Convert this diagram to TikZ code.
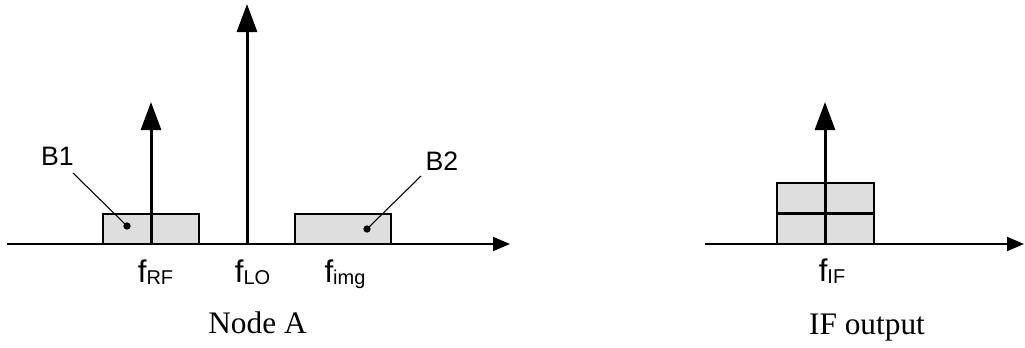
\documentclass[tikz,border=0pt]{standalone}
\usepackage{fontspec}
\setmainfont{Liberation Serif}
\newfontfamily\arialf{Liberation Sans}
\usetikzlibrary{arrows.meta}
\newcommand\mysub[1]{\raisebox{-1.5pt}{\fontsize{15}{15}\selectfont #1}}
\begin{document}
\begin{tikzpicture}[x=0.75pt,y=-0.75pt,
  axisline/.style={line width=1.5pt,-{Triangle[length=12.75pt,width=10.5pt]}},
  sigline/.style={line width=2.25pt,-{Triangle[length=21pt,width=15pt]}},
  band/.style={draw,line width=1.5pt,fill=black!13,inner sep=0pt,outer sep=0pt,minimum width=72pt,minimum height=22.5pt},
  flabel/.style={font=\arialf\fontsize{23.5}{27}\selectfont,anchor=base,inner sep=0pt},
  blabel/.style={font=\arialf\fontsize{20}{24}\selectfont,anchor=base,inner sep=0pt},
  caption/.style={font=\fontsize{23.5}{27}\selectfont,anchor=base,inner sep=0pt},
  leader/.style={line width=0.8pt},
  dot/.style={circle,fill=black,inner sep=0pt,minimum size=5.5pt}]
\useasboundingbox (0,0) rectangle (1025,347);
% left panel
\node[band] (b1) at (151,229) {};
\node[band] (b2) at (343,229) {};
\coordinate (a0) at (7,244);
\coordinate (a1) at (510,244);
\draw[axisline] (a0) -- (a1);
\coordinate (rf0) at (151,244);
\coordinate (rf1) at (151,102);
\coordinate (lo0) at (247,244);
\coordinate (lo1) at (247,4);
\draw[sigline] (rf0) -- (rf1);
\draw[sigline] (lo0) -- (lo1);
\node[dot] (d1) at (127,226) {};
\node[dot] (d2) at (367,229) {};
\node[blabel] (t1) at (57.5,165) {B1};
\node[blabel] (t2) at (442,170) {B2};
\coordinate (l1) at (73,173);
\coordinate (l2) at (421,176);
\draw[leader] (l1) -- (d1.center);
\draw[leader] (l2) -- (d2.center);
\node[flabel] (frf) at (155.5,282) {f\mysub{RF}};
\node[flabel] (flo) at (252.5,282) {f\mysub{LO}};
\node[flabel] (fimg) at (345,282) {f\mysub{img}};
\node[caption] (capa) at (257.5,333) {Node A};
% right panel
\node[band,minimum width=72.75pt] (c1) at (825.5,198) {};
\node[band,minimum width=72.75pt] (c2) at (825.5,228.5) {};
\coordinate (b0) at (705,244);
\coordinate (bend) at (1024,244);
\draw[axisline] (b0) -- (bend);
\coordinate (if0) at (825,244);
\coordinate (if1) at (825,102);
\draw[sigline] (if0) -- (if1);
\node[flabel] (fif) at (832,281) {f\mysub{IF}};
\node[caption] (capb) at (867,334) {IF output};
\end{tikzpicture}
\end{document}
